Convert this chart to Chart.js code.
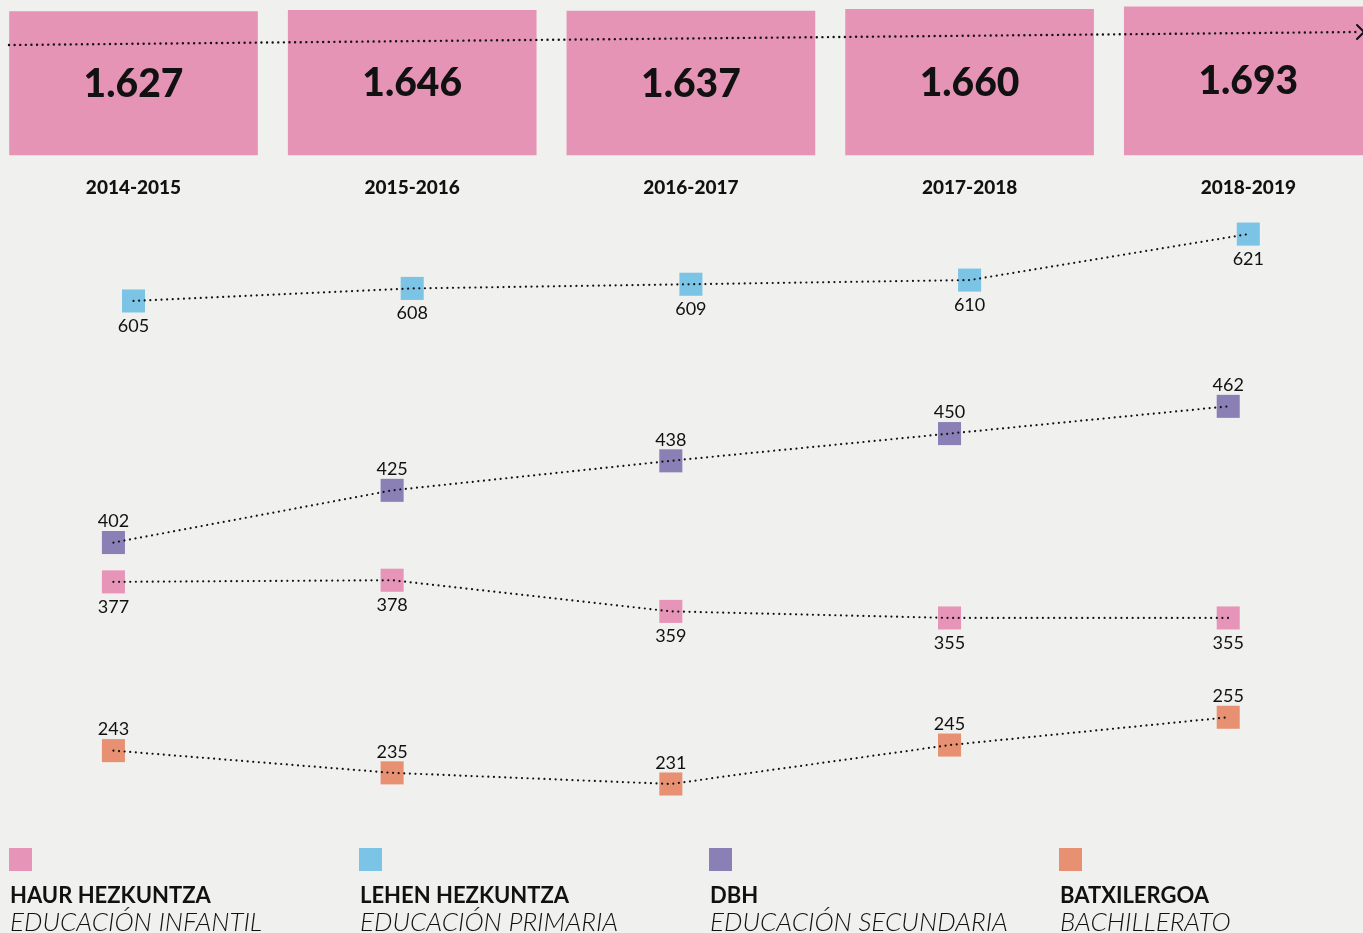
<!DOCTYPE html>
<html><head><meta charset="utf-8">
<script src="https://cdn.jsdelivr.net/npm/chart.js@4/dist/chart.umd.min.js"></script>
<style>
html,body{margin:0;padding:0;background:#f0f0ee;overflow:hidden}
#wrap{position:relative;width:1363px;height:933px}
#c{position:absolute;left:0;top:0}
.leg{position:absolute;top:848px;font-family:Lato,"Noto Sans",sans-serif;color:#111;white-space:nowrap}
.sw{width:23px;height:23px}
.b{position:absolute;top:33px;left:1px;font-weight:700;font-size:22px;line-height:28px}
.i{position:absolute;top:59px;left:1px;font-style:italic;font-weight:300;font-size:26px;line-height:28px}
</style></head>
<body><div id="wrap"><canvas id="c" width="1363" height="933"></canvas>
<div id="legend"></div></div>
<script>
const years = ['2014-2015','2015-2016','2016-2017','2017-2018','2018-2019'];
const totals = [1627,1646,1637,1660,1693];
const haur = [377,378,359,355,355];
const lehen = [605,608,609,610,621];
const dbh = [402,425,438,450,462];
const batx = [243,235,231,245,255];
const seriesNames = [
  ['HAUR HEZKUNTZA','EDUCACIÓN INFANTIL'],
  ['LEHEN HEZKUNTZA','EDUCACIÓN PRIMARIA'],
  ['DBH','EDUCACIÓN SECUNDARIA'],
  ['BATXILERGOA','BACHILLERATO']
];
const colors = ['#e695b8','#7cc4e6','#8a80b6','#e89172'];
const PINKBOX = '#e594b6';

const fmt = v => String(v).replace(/\B(?=(\d{3})+(?!\d))/g,'.');
const pts = (arr, shift) => arr.map((v,i)=>({x:i+shift, y:v}));

function series(arr, color, axis, shift, labelPos){
  return [
    {type:'line', data:pts(arr,shift), yAxisID:axis, order:1, borderColor:'#111', borderWidth:2.2,
     borderDash:[0.01,5.6], borderCapStyle:'round', pointRadius:0, tension:0, fill:false},
    {type:'line', data:pts(arr,shift), yAxisID:axis, order:2, showLine:false, pointStyle:'rect',
     pointRadius:16.3, pointBorderWidth:0, pointBackgroundColor:color, labelPos:labelPos}
  ];
}
const SH = -0.072;
const datasets = [
  {type:'bar', data:pts(totals,0), yAxisID:'yT', backgroundColor:PINKBOX, barThickness:248, base:-302, order:5, isTotal:true},
  ...series(lehen, colors[1], 'yL', 0, 'below'),
  ...series(dbh, colors[2], 'yD', SH, 'above'),
  ...series(haur, colors[0], 'yH', SH, 'below'),
  ...series(batx, colors[3], 'yB', SH, 'above')
];

const deco = {
  id:'deco',
  afterDatasetsDraw(chart){
    const ctx = chart.ctx;
    ctx.save();
    ctx.strokeStyle='#111'; ctx.lineWidth=2.4; ctx.lineCap='round';
    ctx.setLineDash([0.01,5.6]);
    ctx.beginPath(); ctx.moveTo(9,45); ctx.lineTo(1356,32); ctx.stroke();
    ctx.setLineDash([]); ctx.lineWidth=2;
    ctx.beginPath(); ctx.moveTo(1357,25); ctx.lineTo(1364,32); ctx.lineTo(1357,39); ctx.stroke();
    ctx.fillStyle='#111'; ctx.textAlign='center'; ctx.textBaseline='middle';
    chart.data.datasets.forEach((ds,di)=>{
      const meta = chart.getDatasetMeta(di);
      if (ds.isTotal){
        ctx.font='900 39px Lato, "Noto Sans", sans-serif';
        meta.data.forEach((bar,i)=>{ ctx.fillText(fmt(totals[i]), bar.x, (bar.y+bar.base)/2+1); });
      }
      if (ds.labelPos){
        ctx.font='18px Lato, "Noto Sans", sans-serif';
        meta.data.forEach((p,i)=>{
          const dy = ds.labelPos==='above' ? -21 : 25;
          ctx.fillText(String(ds.data[i].y), p.x, p.y+dy);
        });
      }
    });
    const xs = chart.scales.x;
    ctx.font='900 19px Lato, "Noto Sans", sans-serif';
    years.forEach((y,i)=>ctx.fillText(y, xs.getPixelForValue(i), 188));
    ctx.restore();
  }
};

const hid = (min,max)=>({type:'linear', display:false, min, max, grace:0, bounds:'data'});
new Chart(document.getElementById('c'), {
  type:'bar',
  data:{datasets},
  options:{
    responsive:false, animation:false, events:[],
    layout:{padding:0, autoPadding:false},
    plugins:{legend:{display:false}, tooltip:{enabled:false}},
    scales:{
      x:{type:'linear', display:false, min:-0.479, max:4.4116, offset:false, bounds:'data'},
      yT:hid(-10772,1784.5),
      yL:hid(453.8,677.0),
      yD:hid(230.0,641.0),
      yH:hid(162.9,731.8),
      yB:hid(177.4,513.0)
    }
  },
  plugins:[deco]
});

const leg = document.getElementById('legend');
seriesNames.forEach((n,i)=>{
  const d = document.createElement('div');
  d.className='leg'; d.style.left=(9+350*i)+'px';
  d.innerHTML = '<div class="sw" style="background:'+colors[i]+'"></div><div class="b">'+n[0]+'</div><div class="i">'+n[1]+'</div>';
  leg.appendChild(d);
});
</script></body></html>
